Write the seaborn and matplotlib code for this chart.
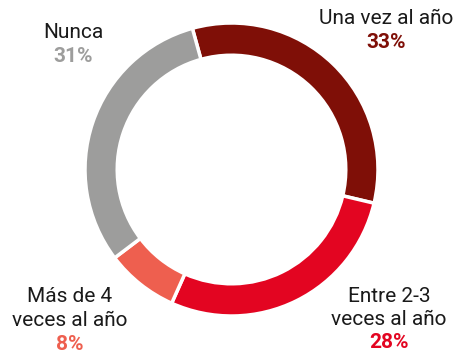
import matplotlib
matplotlib.use("Agg")
import matplotlib.pyplot as plt
import seaborn as sns

categories = ["Una vez al año", "Entre 2-3\nveces al año", "Más de 4\nveces al año", "Nunca"]
shares = [33, 28, 8, 31]
colors = ["#7f0f07", "#e30521", "#ee5f4f", "#9d9d9c"]

sns.set_theme(style="white")
plt.rcParams["font.family"] = ["Roboto", "DejaVu Sans"]

W, H = 456, 356
fig = plt.figure(figsize=(W / 100, H / 100), dpi=100)
fig.patch.set_facecolor("white")

cx, cy, r = 231.5, 169.5, 146.5
ax = fig.add_axes([(cx - r) / W, (H - cy - r) / H, 2 * r / W, 2 * r / H])
ax.pie(shares, colors=colors, startangle=105.5, counterclock=False,
       wedgeprops=dict(width=0.22, edgecolor="white", linewidth=2.5))
ax.set_xlim(-1, 1)
ax.set_ylim(-1, 1)
ax.set_aspect("equal")
ax.axis("off")

# label anchors in pixel space (x centre, y of first text line from top)
anchors = [(386.5, 19), (389, 296), (69.5, 297), (73, 33)]
line_h = 23.5
for name, val, col, (px, py) in zip(categories, shares, colors, anchors):
    lines = name.split("\n")
    for i, ln in enumerate(lines):
        fig.text(px / W, 1 - (py + i * line_h) / H, ln, ha="center", va="center",
                 fontsize=15, color="#1a1a1a")
    fig.text(px / W, 1 - (py + len(lines) * line_h) / H, f"{val}%", ha="center",
             va="center", fontsize=15, fontweight="bold", color=col)

fig.savefig("out.png", dpi=100, facecolor="white")
